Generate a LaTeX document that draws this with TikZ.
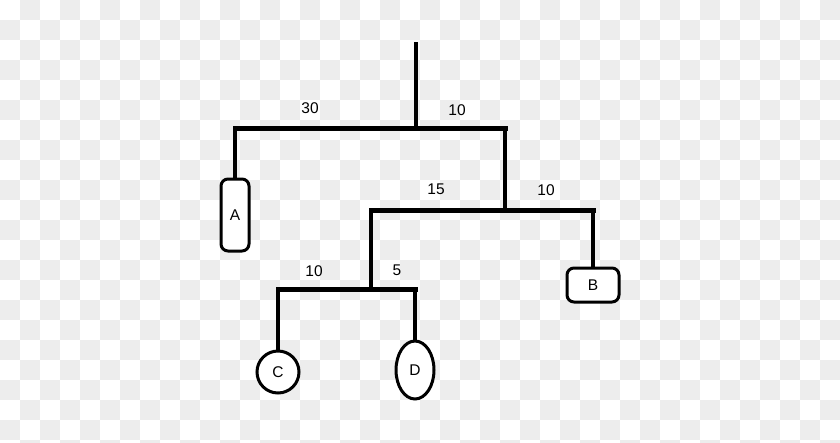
\documentclass[tikz,border=0pt]{standalone}
\usepackage{fontspec}
\setmainfont{Liberation Sans}
\usetikzlibrary{shapes.geometric}
\definecolor{chk}{HTML}{EDEDED}
\tikzset{
  leafbox/.style={draw, line width=3pt, inner sep=0pt, font=\fontsize{15.5}{15.5}\selectfont, fill=white},
  stem/.style={line width=3.2pt},
  hbar/.style={line width=5pt, line cap=rect},
  lbl/.style={font=\fontsize{15.5}{15.5}\selectfont, inner sep=0pt}
}
\begin{document}
\begin{tikzpicture}[x=1pt,y=-1pt]
\useasboundingbox (0,0) rectangle (840,442);
\begin{scope}
\clip (0,0) rectangle (840,442);
\fill[white] (0,0) rectangle (840,442);
\foreach \j in {0,...,22}{\foreach \i in {0,...,41}{%
  \pgfmathparse{int(mod(\i+\j,2))}%
  \ifnum\pgfmathresult=1 \fill[chk] (\i*20,\j*20) rectangle ++(20,20);\fi}}
\end{scope}
% leaves
\node[leafbox, rounded corners=7pt, minimum width=28pt, minimum height=72pt] (A) at (235,215) {A};
\node[leafbox, rounded corners=7pt, minimum width=52pt, minimum height=34pt] (B) at (593,285) {B};
\node[leafbox, circle, minimum size=42pt] (C) at (278,372) {C};
\node[leafbox, ellipse, minimum width=38pt, minimum height=58pt] (D) at (415,370) {D};
% junctions
\coordinate (r) at (416,42);
\coordinate (n1) at (416,128);
\coordinate (n2) at (505,210);
\coordinate (n3) at (371,289);
% tree
\draw[stem] (r) -- (n1);
\draw[stem] (A.north |- n1) -- (A.north);
\draw[stem] (n2 |- n1) -- (n2);
\draw[hbar] (A.north |- n1) -- (n2 |- n1);
\draw[stem] (n3 |- n2) -- (n3);
\draw[stem] (B.north |- n2) -- (B.north);
\draw[hbar] (n3 |- n2) -- (B.north |- n2);
\draw[stem] (C.north |- n3) -- (C.north);
\draw[stem] (D.north |- n3) -- (D.north);
\draw[hbar] (C.north |- n3) -- (D.north |- n3);
% labels
\node[lbl] (l30) at (310,108) {30};
\node[lbl] (l10a) at (457,110) {10};
\node[lbl] (l15) at (436,189) {15};
\node[lbl] (l10b) at (546,190) {10};
\node[lbl] (l10c) at (314,271) {10};
\node[lbl] (l5) at (397,270) {5};
\end{tikzpicture}
\end{document}
